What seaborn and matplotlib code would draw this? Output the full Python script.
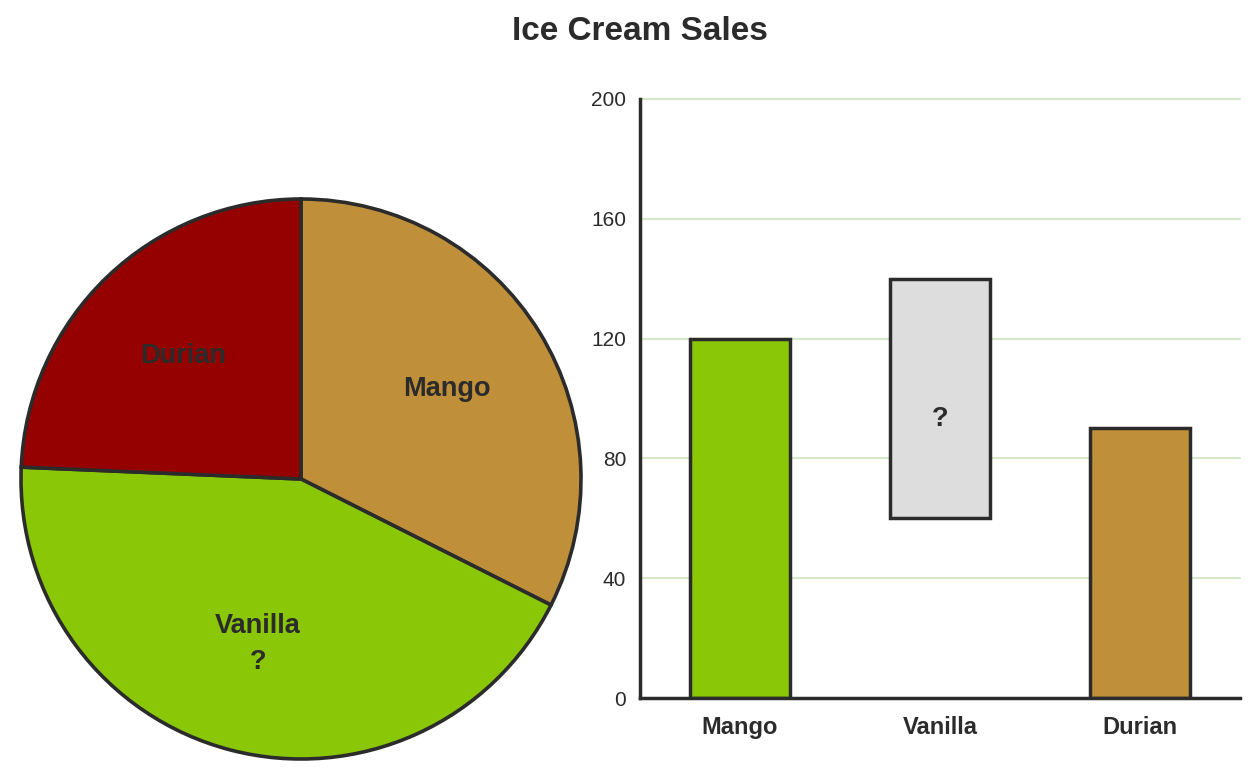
import seaborn as sns
import matplotlib.pyplot as plt
import pandas as pd

# data
flavors = ["Mango", "Vanilla", "Durian"]
pie_sales = [120, 160, 90]
pie_labels = ["Mango", "Vanilla\n?", "Durian"]
bar_flavors = ["Mango", "Durian"]
bar_sales = [120, 90]
vanilla_low = 60
vanilla_high = 140
y_ticks = [0, 40, 80, 120, 160, 200]

colors = {"Mango": "#8ac807", "Vanilla": "#dddddd", "Durian": "#bf9039"}
pie_colors = ["#bf9039", "#8ac807", "#950000"]
edge = "#2b2b2b"
text_col = "#2b2b2b"

sns.set_style("white")
plt.rcParams["font.family"] = ["Liberation Sans", "DejaVu Sans"]

fig = plt.figure(figsize=(12.59, 7.8), dpi=100)
W, H = 1259, 780

# pie
ax_pie = fig.add_axes([21 / W, 1 - 759 / H, 560 / W, 560 / H])
wedges, texts = ax_pie.pie(
    pie_sales, labels=pie_labels, colors=pie_colors, startangle=90,
    counterclock=False, labeldistance=0.61, radius=1.0,
    wedgeprops=dict(edgecolor=edge, linewidth=2.6, clip_on=False),
    textprops=dict(fontsize=19.5, fontweight="bold", color=text_col,
                   ha="center", va="center", linespacing=1.5),
)
ax_pie.set_xlim(-1, 1)
ax_pie.set_ylim(-1, 1)
ax_pie.set_aspect("equal")
ax_pie.axis("off")

# bars
ax = fig.add_axes([640 / W, 1 - 698 / H, 600 / W, 599 / H])
df = pd.DataFrame({"flavor": bar_flavors, "sales": bar_sales})
sns.barplot(data=df, x="flavor", y="sales", hue="flavor", order=flavors,
            palette=colors, saturation=1, width=0.5, edgecolor=edge,
            linewidth=2.5, legend=False, ax=ax, zorder=3)
ax.bar(flavors.index("Vanilla"), vanilla_high - vanilla_low, bottom=vanilla_low,
       width=0.5, color=colors["Vanilla"], edgecolor=edge, linewidth=2.5, zorder=3)
ax.text(flavors.index("Vanilla"), 93, "?", ha="center", va="center",
        fontsize=19.5, fontweight="bold", color=text_col, zorder=4)

ax.set_xlim(-0.5, 2.5)
ax.set_ylim(0, 200)
ax.set_yticks(y_ticks)
ax.yaxis.grid(True, color="#d6e8c9", linewidth=1.5)
for gl in ax.get_ygridlines():
    gl.set_clip_on(False)
ax.set_axisbelow(True)
ax.set_xlabel("")
ax.set_ylabel("")
for side in ["top", "right"]:
    ax.spines[side].set_visible(False)
for side in ["left", "bottom"]:
    ax.spines[side].set_color(edge)
    ax.spines[side].set_linewidth(2.5)
    ax.spines[side].set_zorder(5)
ax.tick_params(axis="y", length=0, pad=10, labelsize=15, labelcolor=text_col)
ax.tick_params(axis="x", length=0, pad=13, labelsize=17, labelcolor=text_col)
for lbl in ax.get_xticklabels():
    lbl.set_fontweight("bold")

fig.text(640 / W, 1 - 32 / H, "Ice Cream Sales", ha="center", va="center",
         fontsize=24, fontweight="bold", color=text_col)

fig.savefig("out.png", dpi=100, facecolor="white")
